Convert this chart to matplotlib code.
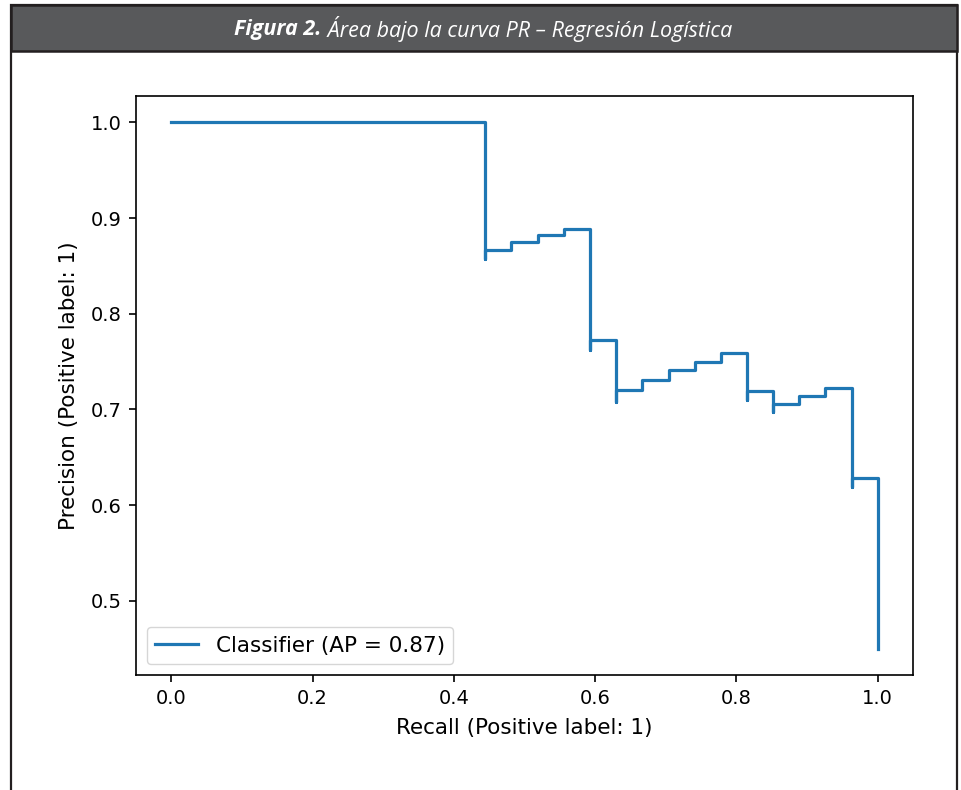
import matplotlib.pyplot as plt
from matplotlib.patches import Rectangle

# precision-recall points, ordered the way sklearn returns them (recall descending)
recall = [1.0, 1.0, 0.963, 0.963, 0.926, 0.889, 0.852, 0.852, 0.815, 0.815,
          0.778, 0.741, 0.704, 0.667, 0.630, 0.630, 0.593, 0.593, 0.556,
          0.519, 0.481, 0.444, 0.444, 0.0]
precision = [0.450, 0.628, 0.619, 0.722, 0.714, 0.706, 0.697, 0.719, 0.710, 0.759,
             0.750, 0.741, 0.731, 0.720, 0.708, 0.773, 0.762, 0.889, 0.882,
             0.875, 0.867, 0.857, 1.0, 1.0]
avg_precision = 0.87

title_bold = "Figura 2."
title_rest = " Área bajo la curva PR – Regresión Logística"

W, H = 962, 790
fig = plt.figure(figsize=(W / 100, H / 100), dpi=100)

# page frame and header band, in pixel units
frame = fig.add_axes([0, 0, 1, 1], zorder=0)
frame.set_xlim(0, W)
frame.set_ylim(H, 0)
frame.axis("off")
frame.add_patch(Rectangle((11, 5), 946, H, facecolor="white",
                          edgecolor="#231f20", linewidth=1.6))
frame.add_patch(Rectangle((11, 5), 946, 46, facecolor="#58595b",
                          edgecolor="#231f20", linewidth=1.8))

t1 = fig.text(0, 0, title_bold, color="white", fontsize=15.5, fontweight="bold",
              fontstyle="italic", family="Open Sans", va="center")
t2 = fig.text(0, 0, title_rest, color="white", fontsize=15.5, fontstyle="italic",
              family="Open Sans", va="center")
fig.canvas.draw()
r = fig.canvas.get_renderer()
w1 = t1.get_window_extent(r).width
w2 = t2.get_window_extent(r).width
x0 = (483 - (w1 + w2) / 2) / W
y0 = 1 - 29 / H
t1.set_position((x0, y0))
t2.set_position((x0 + w1 / W, y0))

ax = fig.add_axes([136 / W, 1 - 675 / H, 777 / W, 579 / H], zorder=1)
ax.plot(recall, precision, drawstyle="steps-post", color="#1f77b4", linewidth=2.3,
        label=f"Classifier (AP = {avg_precision:.2f})")
ax.set_xlabel("Recall (Positive label: 1)", fontsize=15.5, labelpad=7)
ax.set_ylabel("Precision (Positive label: 1)", fontsize=15.5, labelpad=9)
ax.tick_params(labelsize=14, length=5, width=1.2, pad=5)
for s in ax.spines.values():
    s.set_linewidth(1.2)
ax.set_xticks([0.0, 0.2, 0.4, 0.6, 0.8, 1.0])
ax.set_yticks([0.5, 0.6, 0.7, 0.8, 0.9, 1.0])
ax.legend(loc="lower left", fontsize=15.5, handlelength=2.0)

fig.savefig("out.png", dpi=100)
